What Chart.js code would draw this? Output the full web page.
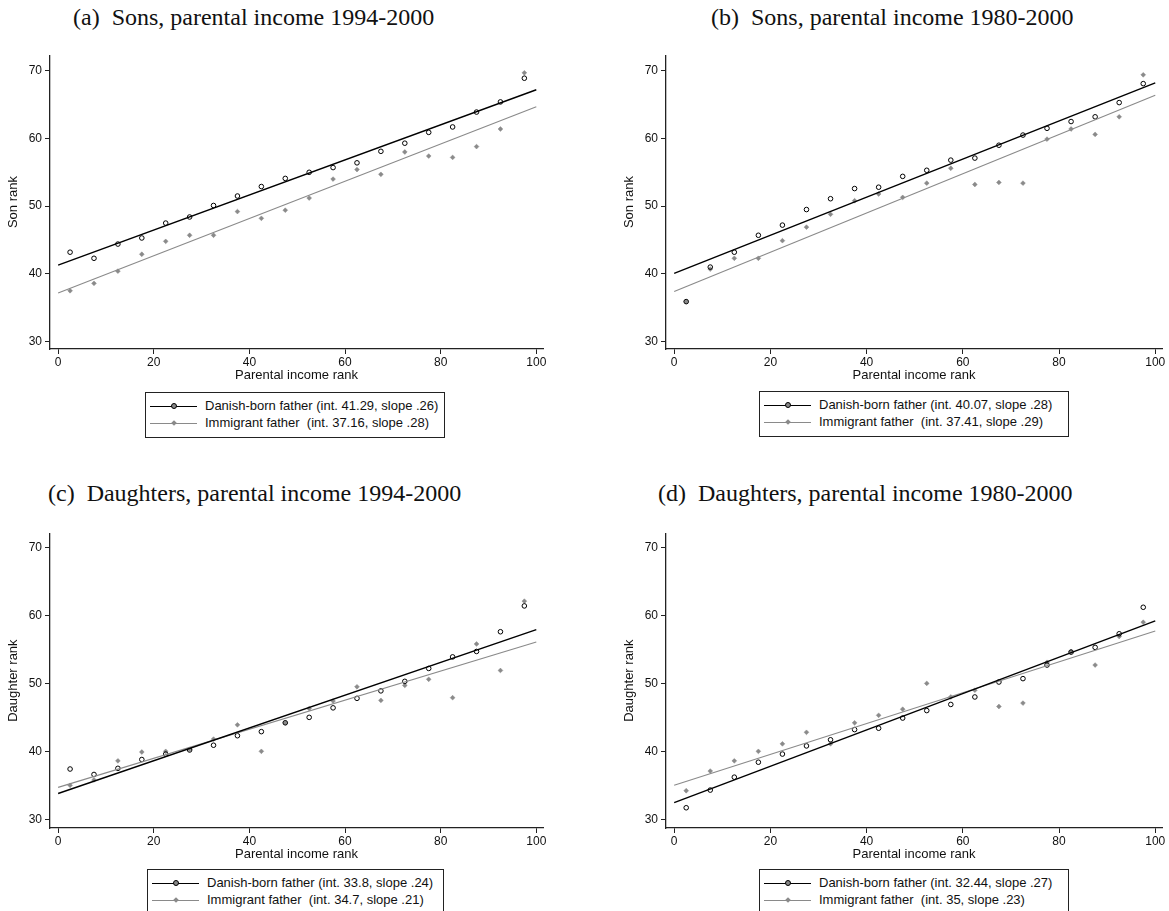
<!DOCTYPE html>
<html>
<head>
<meta charset="utf-8">
<script src="https://cdn.jsdelivr.net/npm/chart.js@4.4.0/dist/chart.umd.min.js"></script>
<style>
	body { margin:0; background:#fff; width:1169px; height:911px; overflow:hidden; position:relative; }
	.cap { position:absolute; font-family:"Liberation Serif", serif; font-size:24px; line-height:24px; color:#111; white-space:pre; }
	canvas { position:absolute; }
	.legend { position:absolute; height:46px; border:1px solid #222; box-sizing:border-box; font-family:"Liberation Sans", Arial, sans-serif; font-size:13px; color:#111; }
	.row { position:absolute; left:0; height:16px; line-height:16px; }
	.row span { position:absolute; left:59px; top:0; white-space:pre; }
	.line { position:absolute; left:4px; top:8px; width:47px; height:0; }
	.dot { position:absolute; box-sizing:border-box; }
</style>
</head>
<body>

<div class="cap" style="left:73px; top:5px;">(a)  Sons, parental income 1994-2000</div>
<div class="cap" style="left:711px; top:5px;">(b)  Sons, parental income 1980-2000</div>
<div class="cap" style="left:48px; top:481px;">(c)  Daughters, parental income 1994-2000</div>
<div class="cap" style="left:658px; top:481px;">(d)  Daughters, parental income 1980-2000</div>

<canvas id="panelA" width="553" height="344" style="left:0px; top:45px;"></canvas>
<canvas id="panelB" width="551" height="344" style="left:616px; top:45px;"></canvas>
<canvas id="panelC" width="553" height="345" style="left:0px; top:523px;"></canvas>
<canvas id="panelD" width="551" height="345" style="left:616px; top:523px;"></canvas>

<div class="legend" id="legA" style="left:145px; top:392px; width:300px;"></div>
<div class="legend" id="legB" style="left:759px; top:391px; width:310px;"></div>
<div class="legend" id="legC" style="left:147px; top:869px; width:297px;"></div>
<div class="legend" id="legD" style="left:759px; top:869px; width:310px;"></div>

<script>
// parental income rank bins (x) and axis ticks
var xBins = [2.5, 7.5, 12.5, 17.5, 22.5, 27.5, 32.5, 37.5, 42.5, 47.5, 52.5, 57.5, 62.5, 67.5, 72.5, 77.5, 82.5, 87.5, 92.5, 97.5];
var xTicks = [0, 20, 40, 60, 80, 100];
var yTicks = [30, 40, 50, 60, 70];
var fitX = [0, 100];

// (a) sons, parental income 1994-2000
var sons9400Danish = [43.2, 42.3, 44.4, 45.3, 47.5, 48.4, 50.1, 51.5, 52.9, 54.1, 55.0, 55.7, 56.4, 58.1, 59.3, 60.9, 61.7, 63.9, 65.4, 68.9];
var sons9400Immigrant = [37.5, 38.6, 40.4, 42.9, 44.8, 45.7, 45.7, 49.2, 48.2, 49.4, 51.2, 54.0, 55.4, 54.7, 58.0, 57.4, 57.2, 58.8, 61.4, 69.7];
var sons9400DanishFit = [41.29, 67.2];
var sons9400ImmigrantFit = [37.16, 64.7];

// (b) sons, parental income 1980-2000
var sons8000Danish = [35.9, 41.0, 43.2, 45.7, 47.2, 49.5, 51.1, 52.6, 52.8, 54.4, 55.3, 56.8, 57.1, 59.0, 60.5, 61.5, 62.5, 63.2, 65.3, 68.1];
var sons8000Immigrant = [35.9, 40.7, 42.3, 42.3, 44.9, 46.9, 48.8, 50.8, 51.8, 51.3, 53.4, 55.6, 53.2, 53.5, 53.4, 59.9, 61.4, 60.6, 63.2, 69.4];
var sons8000DanishFit = [40.07, 68.2];
var sons8000ImmigrantFit = [37.41, 66.4];

// (c) daughters, parental income 1994-2000
var daughters9400Danish = [37.4, 36.6, 37.5, 38.8, 39.6, 40.2, 40.9, 42.3, 42.9, 44.2, 45.0, 46.4, 47.8, 48.9, 50.3, 52.2, 53.9, 54.7, 57.6, 61.4];
var daughters9400Immigrant = [35.0, 35.8, 38.6, 39.9, 40.0, 40.3, 41.8, 43.9, 40.0, 44.2, 46.3, 47.4, 49.5, 47.5, 49.7, 50.6, 47.9, 55.8, 51.9, 62.1];
var daughters9400DanishFit = [33.8, 57.9];
var daughters9400ImmigrantFit = [34.7, 56.1];

// (d) daughters, parental income 1980-2000
var daughters8000Danish = [31.7, 34.3, 36.2, 38.4, 39.6, 40.8, 41.7, 43.2, 43.4, 44.9, 46.0, 46.9, 48.0, 50.2, 50.7, 52.7, 54.6, 55.3, 57.3, 61.2];
var daughters8000Immigrant = [34.2, 37.1, 38.6, 40.0, 41.1, 42.8, 41.1, 44.2, 45.3, 46.2, 50.0, 48.0, 49.0, 46.6, 47.1, 53.1, 54.7, 52.7, 56.9, 59.0];
var daughters8000DanishFit = [32.44, 59.2];
var daughters8000ImmigrantFit = [35.0, 57.7];

var legendA = ['Danish-born father (int. 41.29, slope .26)', 'Immigrant father  (int. 37.16, slope .28)'];
var legendB = ['Danish-born father (int. 40.07, slope .28)', 'Immigrant father  (int. 37.41, slope .29)'];
var legendC = ['Danish-born father (int. 33.8, slope .24)', 'Immigrant father  (int. 34.7, slope .21)'];
var legendD = ['Danish-born father (int. 32.44, slope .27)', 'Immigrant father  (int. 35, slope .23)'];

var sansFont = '"Liberation Sans", Arial, sans-serif';
var gray = '#8a8a8a';

function toPoints(xs, ys){
	return xs.map(function(x, i){ return {x: x, y: ys[i]}; });
}

function drawPanel(opt){

	var data = {
		datasets: [
			{
				label: 'Danish fit',
				data: toPoints(fitX, opt.danishFit),
				showLine: true,
				borderColor: '#000',
				borderWidth: 1.4,
				pointRadius: 0
			},
			{
				label: 'Immigrant fit',
				data: toPoints(fitX, opt.immigrantFit),
				showLine: true,
				borderColor: gray,
				borderWidth: 1.1,
				pointRadius: 0
			},
			{
				label: 'Danish-born father',
				data: toPoints(xBins, opt.danish),
				pointStyle: 'circle',
				pointRadius: 2.3,
				borderColor: '#000',
				borderWidth: 1,
				backgroundColor: 'rgba(0,0,0,0)'
			},
			{
				label: 'Immigrant father',
				data: toPoints(xBins, opt.immigrant),
				pointStyle: 'rectRot',
				pointRadius: 2.4,
				borderColor: gray,
				borderWidth: 0.5,
				backgroundColor: gray
			}
		]
	};

	var options = {
		responsive: false,
		animation: false,
		devicePixelRatio: 1,
		layout: {
			autoPadding: false,
			padding: {top: 10, right: opt.padRight, bottom: 0, left: 0}
		},
		plugins: {
			legend: { display: false },
			tooltip: { enabled: false }
		},
		scales: {
			x: {
				type: 'linear',
				min: -1.7,
				max: 101.4,
				afterBuildTicks: function(s){ s.ticks = xTicks.map(function(v){ return {value: v}; }); },
				afterFit: function(s){ s.height = 40; },
				grid: { drawOnChartArea: false, tickLength: 5, color: '#222', tickWidth: 1 },
				border: { color: '#222', width: 1.3 },
				ticks: { padding: 1, color: '#111', font: {family: sansFont, size: 12}, maxRotation: 0 },
				title: { display: true, text: 'Parental income rank', color: '#111', font: {family: sansFont, size: 13}, padding: {top: 0, bottom: 6} }
			},
			y: {
				type: 'linear',
				min: opt.yMin,
				max: opt.yMax,
				afterBuildTicks: function(s){ s.ticks = yTicks.map(function(v){ return {value: v}; }); },
				afterFit: function(s){ s.width = 50; },
				grid: { drawOnChartArea: false, tickLength: 5, color: '#222', tickWidth: 1 },
				border: { color: '#222', width: 1.3 },
				ticks: { padding: 3, color: '#111', font: {family: sansFont, size: 12} },
				title: { display: true, text: opt.yTitle, color: '#111', font: {family: sansFont, size: 13}, padding: {top: 6, bottom: 0} }
			}
		}
	};

	return new Chart(document.getElementById(opt.id), {
		type: 'scatter',
		data: data,
		options: options
	});
}

function drawLegend(id, labels){
	var box = document.getElementById(id);
	var html = '';
	html += '<div class="row" style="top:5px;">' +
		'<div class="line" style="border-top:1.4px solid #000;"></div>' +
		'<div class="dot" style="left:25px; top:5px; width:6px; height:6px; border:1.3px solid #000; border-radius:50%; background:#888;"></div>' +
		'<span>' + labels[0] + '</span></div>';
	html += '<div class="row" style="top:22px;">' +
		'<div class="line" style="border-top:1px solid ' + gray + ';"></div>' +
		'<div class="dot" style="left:26px; top:6px; width:4px; height:4px; background:' + gray + '; transform:rotate(45deg);"></div>' +
		'<span>' + labels[1] + '</span></div>';
	box.innerHTML = html;
}

drawPanel({id: 'panelA', yTitle: 'Son rank', yMin: 28.9, yMax: 72.3, padRight: 10,
	danish: sons9400Danish, immigrant: sons9400Immigrant, danishFit: sons9400DanishFit, immigrantFit: sons9400ImmigrantFit});
drawPanel({id: 'panelB', yTitle: 'Son rank', yMin: 28.9, yMax: 72.3, padRight: 5,
	danish: sons8000Danish, immigrant: sons8000Immigrant, danishFit: sons8000DanishFit, immigrantFit: sons8000ImmigrantFit});
drawPanel({id: 'panelC', yTitle: 'Daughter rank', yMin: 28.72, yMax: 72.1, padRight: 10,
	danish: daughters9400Danish, immigrant: daughters9400Immigrant, danishFit: daughters9400DanishFit, immigrantFit: daughters9400ImmigrantFit});
drawPanel({id: 'panelD', yTitle: 'Daughter rank', yMin: 28.72, yMax: 72.1, padRight: 5,
	danish: daughters8000Danish, immigrant: daughters8000Immigrant, danishFit: daughters8000DanishFit, immigrantFit: daughters8000ImmigrantFit});

drawLegend('legA', legendA);
drawLegend('legB', legendB);
drawLegend('legC', legendC);
drawLegend('legD', legendD);
</script>
</body>
</html>
